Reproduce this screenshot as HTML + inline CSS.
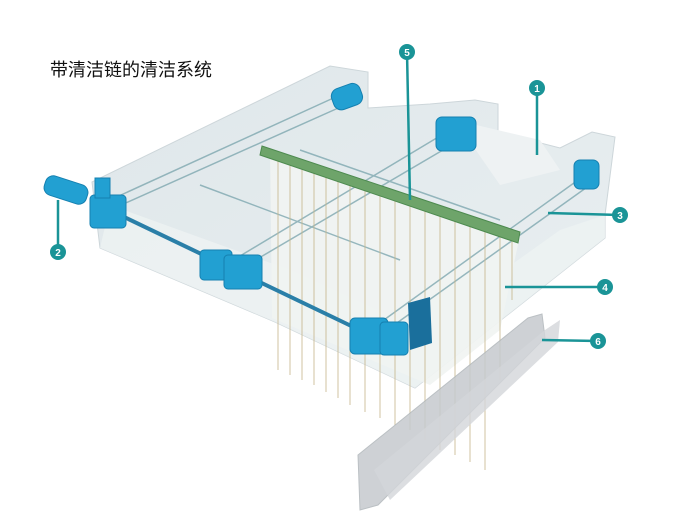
<!DOCTYPE html>
<html><head><meta charset="utf-8"><style>
html,body{margin:0;padding:0;background:#fff;}
svg{display:block}
</style></head><body>
<svg width="676" height="523" viewBox="0 0 676 523" xmlns="http://www.w3.org/2000/svg">
<defs>
<linearGradient id="tk" x1="0" y1="0" x2="1" y2="1">
<stop offset="0" stop-color="#dfe7ea"/><stop offset="1" stop-color="#e9eff1"/></linearGradient>
</defs>
<text x="50" y="76" font-family="'Liberation Sans','Noto Sans CJK SC',sans-serif" font-size="18" fill="#111">带清洁链的清洁系统</text>
<polygon points="92,182 330,66 368,72 368,108 430,104 475,100 498,104 498,132 560,148 592,132 615,137 605,215 605,238 415,388 275,322 100,248" fill="url(#tk)" stroke="#cdd6da" stroke-width="1"/>
<polygon points="100,248 275,322 415,388 605,238 605,215 560,230 420,330 290,270 110,205" fill="#edf2f3" opacity="0.8"/>
<polygon points="270,150 520,235 500,330 430,385 272,318" fill="#f1f4f2" opacity="0.9"/>
<polygon points="455,120 540,140 560,170 500,185" fill="#eef2f3"/>
<g stroke="#7fa8b0" stroke-width="1.5" fill="none" opacity="0.8">
<line x1="110" y1="200" x2="340" y2="95"/><line x1="110" y1="210" x2="345" y2="105"/>
<line x1="225" y1="265" x2="450" y2="130"/><line x1="230" y1="275" x2="460" y2="140"/>
<line x1="370" y1="330" x2="585" y2="175"/><line x1="380" y1="335" x2="590" y2="185"/>
<line x1="200" y1="185" x2="400" y2="260"/><line x1="300" y1="150" x2="500" y2="220"/>
</g>
<g stroke="#c8b890" stroke-width="1.2" opacity="0.7">
<line x1="278" y1="160" x2="278" y2="370"/><line x1="290" y1="165" x2="290" y2="375"/>
<line x1="302" y1="168" x2="302" y2="380"/><line x1="314" y1="172" x2="314" y2="385"/>
<line x1="326" y1="176" x2="326" y2="392"/><line x1="338" y1="180" x2="338" y2="398"/>
<line x1="350" y1="184" x2="350" y2="405"/><line x1="365" y1="188" x2="365" y2="412"/>
<line x1="380" y1="192" x2="380" y2="418"/><line x1="395" y1="196" x2="395" y2="425"/>
<line x1="410" y1="200" x2="410" y2="430"/><line x1="425" y1="204" x2="425" y2="440"/>
<line x1="440" y1="208" x2="440" y2="450"/><line x1="455" y1="212" x2="455" y2="455"/>
<line x1="470" y1="216" x2="470" y2="462"/><line x1="485" y1="222" x2="485" y2="470"/>
<line x1="500" y1="227" x2="500" y2="380"/><line x1="512" y1="232" x2="512" y2="300"/>
</g>
<polygon points="262,146 520,232 518,243 260,155" fill="#6ea46a" stroke="#4d8a4f" stroke-width="1"/>
<line x1="120" y1="215" x2="370" y2="335" stroke="#2a7fa8" stroke-width="4"/>
<g fill="#22a0d2" stroke="#1580b0" stroke-width="1">
<rect x="44" y="180" width="44" height="20" rx="8" transform="rotate(18 66 190)"/>
<rect x="90" y="195" width="36" height="33" rx="4"/>
<rect x="95" y="178" width="15" height="20"/>
<rect x="200" y="250" width="32" height="30" rx="4"/>
<rect x="224" y="255" width="38" height="34" rx="4"/>
<rect x="350" y="318" width="38" height="36" rx="5"/>
<rect x="380" y="322" width="28" height="33" rx="4"/>
<rect x="332" y="86" width="30" height="22" rx="8" transform="rotate(-20 346 97)"/>
<rect x="436" y="117" width="40" height="34" rx="6"/>
<rect x="574" y="160" width="25" height="29" rx="6"/>
</g>
<polygon points="408,303 430,297 432,343 410,350" fill="#1a6f9c"/>
<polygon points="358,455 528,318 542,314 545,338 378,505 360,510" fill="#c6cace" opacity="0.85" stroke="#b0b6ba"/>
<polygon points="374,470 545,330 560,320 558,342 390,500" fill="#d3d6d9" opacity="0.8"/>
<g stroke="#1a9497" stroke-width="2.5">
<line x1="537" y1="88" x2="537" y2="155"/>
<line x1="58" y1="252" x2="58" y2="200"/>
<line x1="620" y1="215" x2="548" y2="213"/>
<line x1="605" y1="287" x2="505" y2="287"/>
<line x1="407" y1="52" x2="410" y2="200"/>
<line x1="598" y1="341" x2="542" y2="340"/>
</g>
<g fill="#1a9497">
<circle cx="537" cy="88" r="8"/><circle cx="58" cy="252" r="8"/><circle cx="620" cy="215" r="8"/>
<circle cx="605" cy="287" r="8"/><circle cx="407" cy="52" r="8"/><circle cx="598" cy="341" r="8"/>
</g>
<g fill="#fff" font-family="'Liberation Sans',sans-serif" font-size="10" font-weight="bold" text-anchor="middle">
<text x="537" y="92">1</text><text x="58" y="256">2</text><text x="620" y="219">3</text>
<text x="605" y="291">4</text><text x="407" y="56">5</text><text x="598" y="345">6</text>
</g>
</svg>
</body></html>
